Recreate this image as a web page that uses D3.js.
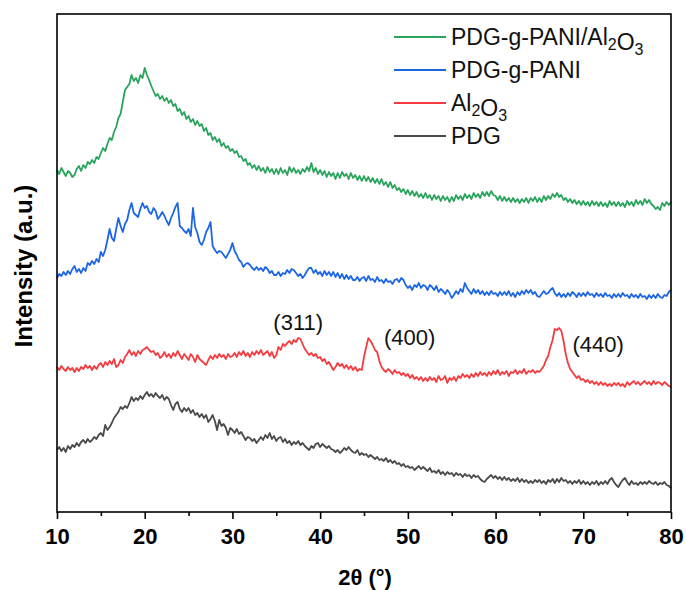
<!DOCTYPE html>
<html>
<head>
<meta charset="utf-8">
<script src="https://cdn.jsdelivr.net/npm/d3@7/dist/d3.min.js"></script>
<style>
  html, body { margin: 0; padding: 0; background: #fff; }
  svg { display: block; font-family: "Liberation Sans", Arial, sans-serif; }
</style>
</head>
<body>
<svg id="chart" width="686" height="590"></svg>
<script>
// XRD patterns, 2θ from 10° to 80° sampled every 0.25°; intensities are stacked (offset) a.u.
const thetaStart = 10, thetaStep = 0.25;

const pdgGPaniAl2o3 = [
  342,338,344,340, 336,341,339,335, 337,343,346,341, 347,344,350,348, 352,349,355,353,
  359,364,361,368, 374,372,380,385, 394,398,410,422, 425,428,437,431, 434,429,437,434,
  444,437,432,426, 421,416,418,413, 416,411,414,409, 412,406,408,401, 403,397,400,393,
  396,390,393,387, 391,386,388,381, 384,377,379,372, 375,370,373,366, 369,364,366,361,
  363,359,361,355, 356,351,353,347, 349,344,347,342, 346,341,344,339, 345,340,343,338,
  343,338,344,339, 342,337,345,340, 344,339,342,338, 343,340,345,341, 349,340,344,338,
  342,337,341,335, 340,336,339,333, 339,334,340,336, 338,333,339,334, 337,332,336,331,
  336,331,335,330, 334,329,333,328, 333,327,330,325, 330,324,327,322, 324,320,323,318,
  322,317,321,316, 320,315,318,314, 319,314,317,312, 317,313,316,311, 316,312,315,310,
  315,311,317,313, 316,312,318,314, 317,313,319,315, 318,314,320,316, 320,316,321,317,
  316,312,316,311, 315,311,314,310, 314,310,313,309, 313,310,314,309, 314,311,315,310,
  314,310,316,312, 316,313,318,315, 319,315,317,312, 314,310,313,309, 312,308,311,307,
  311,307,310,306, 311,307,310,306, 310,306,309,305, 311,307,310,306, 310,306,309,305,
  311,307,310,306, 312,308,311,307, 313,309,312,308, 306,303,305,302, 309,306,310,307,
  310
];

const pdgGPani = [
  234,238,236,240, 237,241,238,243, 246,240,243,239, 244,241,249,247, 251,248,253,250,
  260,256,262,272, 283,274,271,283, 294,286,280,288, 292,302,309,299, 297,295,303,309,
  304,306,300,298, 304,301,293,296, 300,296,291,287, 294,299,305,309, 286,284,281,279,
  283,276,304,285, 279,270,267,272, 280,284,290,266, 262,259,261,260, 257,254,258,262,
  269,261,257,252, 250,245,248,249, 247,244,242,245, 242,244,241,245, 243,239,241,237,
  237,240,236,239, 238,242,239,243, 242,239,236,238, 234,237,241,244, 244,239,242,238,
  240,236,241,237, 240,236,240,235, 239,234,238,233, 237,233,236,232, 232,235,231,234,
  235,231,236,232, 233,230,235,231, 232,229,233,230, 231,228,232,233, 230,234,232,227,
  224,226,222,227, 225,229,224,227, 226,222,227,225, 222,226,220,223, 221,218,222,219,
  214,217,221,218, 223,220,229,224, 221,218,223,219, 222,218,221,217, 220,217,221,218,
  219,216,220,217, 220,217,221,216, 219,215,220,217, 221,218,222,219, 222,218,220,216,
  215,218,221,218, 219,222,224,219, 216,219,215,218, 215,219,216,220, 218,215,219,216,
  219,216,220,217, 218,215,219,216, 218,215,219,216, 217,214,218,215, 218,215,219,216,
  217,214,218,215, 217,214,218,215, 216,213,217,214, 217,214,218,215, 214,217,216,220,
  222
];

const al2o3 = [
  145,142,146,143, 141,145,142,144, 140,144,141,145, 143,147,144,146, 142,146,143,147,
  149,145,150,147, 151,148,153,145, 147,152,149,155, 158,162,157,160, 156,161,158,162,
  163,165,162,160, 161,157,159,154, 156,160,155,158, 154,159,156,161, 157,153,158,155,
  152,158,155,150, 157,153,151,149, 147,152,156,153, 157,154,158,155, 157,153,158,155,
  156,159,155,160, 157,161,156,159, 155,160,157,161, 158,162,157,159, 161,156,160,154,
  157,165,162,168, 166,169,171,168, 172,170,174,173, 168,163,160,157, 159,156,158,154,
  155,151,153,148, 150,146,142,145, 149,146,148,144, 147,143,146,142, 145,141,143,142,
  155,165,174,171, 167,162,160,151, 145,142,140,143, 141,138,142,139, 140,137,139,136,
  138,134,137,133, 135,132,135,131, 134,131,135,132, 134,130,136,132, 133,136,129,134,
  132,135,131,136, 134,138,135,137, 134,138,135,139, 136,140,137,139, 136,140,137,141,
  138,142,137,140, 138,141,136,140, 139,142,138,141, 139,143,138,141, 140,142,139,141,
  140,143,146,152, 156,165,172,183, 182,184,181,171, 158,149,143,140, 137,134,136,132,
  133,130,132,129, 131,128,130,127, 130,127,129,126, 128,126,129,127, 129,126,128,125,
  130,127,129,131, 128,130,127,129, 131,128,130,127, 131,128,130,129, 127,130,128,126,
  125
];

const pdg = [
  62,65,61,64, 60,66,63,67, 65,69,66,70, 72,69,73,70, 72,75,73,77,
  79,76,87,82, 85,89,94,97, 100,105,103,106, 104,109,115,111, 114,112,116,113,
  117,120,116,118, 115,119,116,114, 117,112,115,113, 107,102,108,110, 103,100,104,101,
  104,99,102,97, 99,95,98,94, 97,90,93,97, 91,82,92,86, 88,84,77,84,
  82,79,83,78, 80,76,72,75, 74,71,73,69, 72,75,72,77, 74,79,73,76,
  71,74,75,70, 73,69,71,67, 70,68,71,67, 69,66,64,62, 66,64,68,69,
  65,68,66,64, 66,63,62,60, 62,59,61,64, 62,65,62,60, 59,62,57,59,
  57,58,55,57, 55,53,55,52, 53,51,54,50, 52,49,51,48, 49,46,48,45,
  46,44,45,42, 44,46,43,45, 43,41,44,40, 41,39,42,38, 40,37,40,38,
  39,36,39,37, 38,35,38,36, 37,34,37,35, 36,33,31,30, 33,35,37,34,
  36,33,35,32, 35,32,34,31, 33,31,34,30, 33,30,32,29, 31,29,32,30,
  32,29,31,28, 32,30,33,29, 33,30,34,31, 32,29,31,28, 31,29,32,28,
  31,28,30,27, 30,28,31,27, 30,28,31,28, 32,34,30,27, 25,29,32,34,
  30,27,31,28, 29,27,30,28, 30,28,31,29, 28,30,27,29, 28,30,27,26,
  24
];

const seriesNames = ["PDG-g-PANI/Al2O3", "PDG-g-PANI", "Al2O3", "PDG"];
const seriesValues = [pdgGPaniAl2o3, pdgGPani, al2o3, pdg];
const seriesColors = ["#2aa45c", "#1c66e4", "#f43c40", "#4a4a4a"];

const majorTicks = [10, 20, 30, 40, 50, 60, 70, 80];
const minorTicks = [15, 25, 35, 45, 55, 65, 75];

const peakLabels = ["(311)", "(400)", "(440)"];
const peakTheta = [37.5, 45.75, 67.25];
const peakLabelTheta = [37.5, 50.2, 71.7];
const peakLabelLift = [8, -4, -24];

(function draw() {
  const svg = d3.select("#chart");
  const plotL = 57, plotR = 671, plotT = 14, plotB = 512;

  const x = d3.scaleLinear().domain([10, 80]).range([plotL, plotR]);
  const y = d3.scaleLinear().domain([0, 498]).range([plotB, plotT]);

  const thetaAt = i => thetaStart + i * thetaStep;

  // curves
  const line = d3.line()
    .x((d, i) => x(thetaAt(i)))
    .y(d => y(d));

  svg.append("g")
    .selectAll("path")
    .data(seriesValues)
    .join("path")
    .attr("fill", "none")
    .attr("stroke", (d, i) => seriesColors[i])
    .attr("stroke-width", 1.8)
    .attr("stroke-linejoin", "round")
    .attr("d", line);

  // frame
  svg.append("rect")
    .attr("x", plotL).attr("y", plotT)
    .attr("width", plotR - plotL).attr("height", plotB - plotT)
    .attr("fill", "none").attr("stroke", "#000").attr("stroke-width", 1.6);

  // bottom axis: major ticks with labels, minor ticks without
  const gx = svg.append("g").attr("transform", `translate(0,${plotB})`)
    .call(d3.axisBottom(x).tickValues(majorTicks).tickSize(7).tickPadding(9).tickFormat(d3.format("d")));
  gx.select(".domain").remove();
  gx.selectAll(".tick line").attr("stroke", "#000").attr("stroke-width", 1.6);
  gx.selectAll(".tick text")
    .attr("font-family", "'Liberation Sans', Arial, sans-serif")
    .attr("font-size", 22).attr("font-weight", "bold").attr("fill", "#000");

  const gxm = svg.append("g").attr("transform", `translate(0,${plotB})`)
    .call(d3.axisBottom(x).tickValues(minorTicks).tickSize(4).tickFormat(""));
  gxm.select(".domain").remove();
  gxm.selectAll(".tick line").attr("stroke", "#000").attr("stroke-width", 1.6);

  // axis titles
  svg.append("text")
    .attr("x", 365).attr("y", 585)
    .attr("text-anchor", "middle")
    .attr("font-size", 22).attr("font-weight", "bold")
    .text("2θ (°)");

  svg.append("text")
    .attr("transform", `translate(32,${(plotT + plotB) / 2 + 3}) rotate(-90)`)
    .attr("text-anchor", "middle")
    .attr("font-size", 24).attr("font-weight", "bold")
    .text("Intensity (a.u.)");

  // peak annotations
  svg.append("g").selectAll("text")
    .data(peakLabels)
    .join("text")
    .attr("x", (d, i) => x(peakLabelTheta[i]))
    .attr("y", (d, i) => {
      const idx = Math.round((peakTheta[i] - thetaStart) / thetaStep);
      return y(al2o3[idx]) - peakLabelLift[i];
    })
    .attr("text-anchor", "middle")
    .attr("font-size", 22)
    .attr("fill", "#111")
    .text(d => d);

  // legend
  const legendY = [37, 70, 103, 136];
  const legend = svg.append("g");
  seriesNames.forEach((name, i) => {
    const ly = legendY[i];
    legend.append("line")
      .attr("x1", 394).attr("x2", 446).attr("y1", ly).attr("y2", ly)
      .attr("stroke", seriesColors[i]).attr("stroke-width", 2);
    const t = legend.append("text")
      .attr("x", 451).attr("y", ly + 8)
      .attr("font-size", 23).attr("fill", "#111");
    // chemical formulas get subscript digits
    name.split(/(\d)/).forEach(p => {
      if (p === "") return;
      if (/^\d$/.test(p)) {
        t.append("tspan").attr("font-size", 16).attr("dy", 5).text(p);
        t.append("tspan").attr("font-size", 23).attr("dy", -5).text("");
      } else {
        t.append("tspan").text(p);
      }
    });
  });
})();
</script>
</body>
</html>
